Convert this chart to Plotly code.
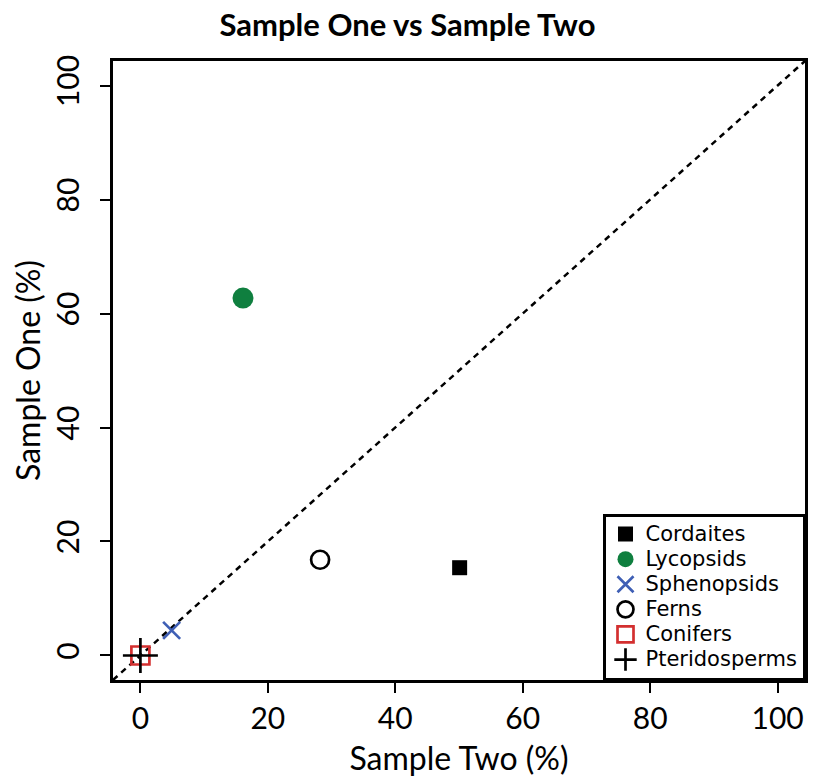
import plotly.graph_objects as go

groups = ["Cordaites", "Lycopsids", "Sphenopsids", "Ferns", "Conifers", "Pteridosperms"]
sample_two = [50.1, 16.1, 4.9, 28.2, 0.0, 0.0]
sample_one = [15.4, 62.7, 4.4, 16.8, 0.0, 0.0]
symbols = ["square", "circle", "x-thin", "circle-open", "square-open", "cross-thin"]
colors = ["#000000", "#0F7F3F", "#3F5FB5", "#000000", "#D32F2F", "#000000"]
sizes = [15, 21, 17, 18, 18, 25]
xtick_vals = [0, 20, 40, 60, 80, 100]
ytick_vals = [0, 20, 40, 60, 80, 100]
axis_range = [-4.3, 104.3]

fig = go.Figure()
fig.add_trace(go.Scatter(x=axis_range, y=axis_range, mode="lines",
                         line=dict(color="black", width=2.5, dash="6px,5px"),
                         showlegend=False, hoverinfo="skip"))
for i, g in enumerate(groups):
    sym = symbols[i]
    open_like = sym.endswith("open") or sym.endswith("thin")
    marker = dict(symbol=sym, size=sizes[i], color=colors[i])
    if open_like:
        marker["line"] = dict(color=colors[i], width=2.7)
    else:
        marker["line"] = dict(width=0)
    fig.add_trace(go.Scatter(x=[sample_two[i]], y=[sample_one[i]], mode="markers",
                             marker=marker,
                             name='<span style="font-size:21px">' + g + '</span>'))

font_family = "Lato, Open Sans, sans-serif"
fig.update_layout(
    width=815, height=778,
    paper_bgcolor="white", plot_bgcolor="white",
    margin=dict(l=113, r=10, t=61, b=98),
    title=dict(text="<b>Sample One vs Sample Two</b>", x=0.5, xanchor="center",
               y=0.968, yanchor="middle",
               font=dict(family=font_family, size=31, color="black")),
    font=dict(family=font_family, color="black"),
    xaxis=dict(range=axis_range, tickvals=xtick_vals, ticks="outside", ticklen=10,
               tickwidth=2, tickcolor="black", showline=True, linecolor="black",
               linewidth=2.5, mirror=True, showgrid=False, zeroline=False,
               automargin=False,
               tickfont=dict(size=30), title=dict(text="Sample Two (%)", font=dict(size=32), standoff=14)),
    yaxis=dict(range=axis_range, tickvals=ytick_vals, ticks="outside", ticklen=10,
               tickwidth=2, tickcolor="black", showline=True, linecolor="black",
               linewidth=2.5, mirror=True, showgrid=False, zeroline=False,
               automargin=False, tickangle=-90, tickfont=dict(size=30),
               ticklabelstandoff=9,
               title=dict(text="Sample One (%)", font=dict(size=32), standoff=0)),
    legend=dict(x=1, y=0, xanchor="right", yanchor="bottom",
                bordercolor="black", borderwidth=2.5, bgcolor="white",
                font=dict(size=17, family="DejaVu Sans, sans-serif"), itemwidth=30,
                tracegroupgap=0, itemsizing="trace"),
)
fig.write_html("out.html", config={"displayModeBar": False},
               post_script="document.body.style.margin='0';document.body.style.overflow='hidden';")
